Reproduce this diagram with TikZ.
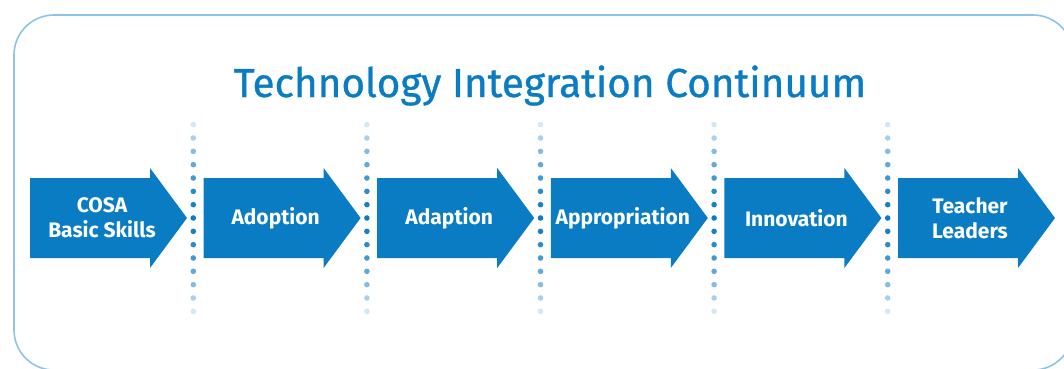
\documentclass[tikz,border=0pt]{standalone}
\usepackage{fontspec}
\setmainfont{Fira Sans}
\newfontfamily\titrefont[FakeBold=0.8]{Fira Sans}
\definecolor{bleu}{HTML}{0A7CC4}
\definecolor{bleuclair}{HTML}{8CC3EA}
\tikzstyle{cadre}=[draw=bleuclair,line width=1.6pt,rounded corners=40pt]
\tikzstyle{fleche}=[fill=bleu]
\tikzstyle{etape}=[text=white,align=center,inner sep=0pt,font=\fontsize{21}{25}\selectfont\bfseries]
\tikzstyle{titre}=[text=bleu,inner sep=0pt,font=\titrefont\fontsize{40.5}{46}\selectfont]
\tikzstyle{point}=[fill=bleu]

\begin{document}
\begin{tikzpicture}[x=1pt,y=1pt]
    \useasboundingbox (0,0) rectangle (1064,368);
    % cadre
    \path[cadre] (14,-2) rectangle (1073,353);
    % titre
    \node[titre,anchor=base] (titre) at (550,271) {Technology Integration Continuum};
    % fleches
    \foreach \i/\name/\txt in {0/cosa/{COSA\\Basic Skills}, 1/adoption/Adoption, 2/adaption/Adaption, 3/appropriation/Appropriation, 4/innovation/Innovation, 5/leaders/{Teacher\\Leaders}}{
        \pgfmathsetmacro{\L}{30+173.6*\i}
        \path[fleche] (\L,190) -- (\L+120,190) -- (\L+120,200) -- (\L+157,150) -- (\L+120,100) -- (\L+120,110) -- (\L,110) -- cycle;
        \node[etape] (\name) at (\L+72,150) {\txt};
    }
    % pointilles
    \foreach \i in {0,...,4}
        \foreach \k in {-7,...,7}{
            \pgfmathsetmacro{\op}{1-(abs(\k)/8)^1.5}
            \fill[point,opacity=\op] (193.3+173.6*\i,150+13.33*\k) circle (2.8);
        }
\end{tikzpicture}
\end{document}
